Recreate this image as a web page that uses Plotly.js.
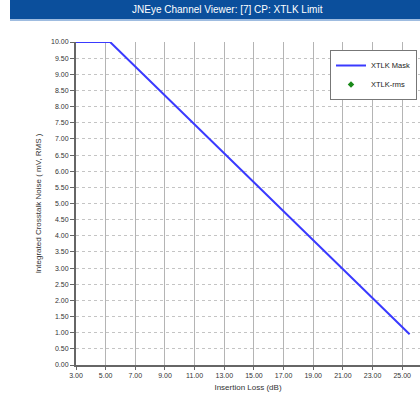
<!DOCTYPE html>
<html><head><meta charset="utf-8">
<script src="https://cdn.plot.ly/plotly-3.0.1.min.js"></script>
<style>html,body{margin:0;padding:0;background:#fff;overflow:hidden;}#chart{width:420px;height:396px;}</style>
</head><body><div id="chart"></div>
<script>
const chartTitle = "JNEye Channel Viewer: [7] CP: XTLK Limit";
const insertionLoss = [3.0, 5.3, 25.5];
const xtlkMask = [10.0, 10.0, 0.95];
const rmsLoss = [null];
const xtlkRms = [null];
const xTickVals = [3,5,7,9,11,13,15,17,19,21,23,25];
const yTickVals = [0,0.5,1,1.5,2,2.5,3,3.5,4,4.5,5,5.5,6,6.5,7,7.5,8,8.5,9,9.5,10];

const F = "Liberation Sans Narrow, Liberation Sans, Arial, sans-serif";
const W = 420, H = 396, ml = 76, mr = 0, mt = 42, mb = 31;
const PW = W - ml - mr, PH = H - mt - mb;

const traces = [
  {x: insertionLoss, y: xtlkMask, mode: 'lines', name: 'XTLK Mask',
   line: {color: '#3a3aff', width: 2}, cliponaxis: false},
  {x: rmsLoss, y: xtlkRms, mode: 'markers', name: 'XTLK-rms',
   marker: {color: '#1a8a1a', symbol: 'diamond', size: 5}}
];

const layout = {
  width: W, height: H,
  margin: {l: ml, r: mr, t: mt, b: mb, pad: 0, autoexpand: false},
  paper_bgcolor: '#fff', plot_bgcolor: '#fff',
  font: {family: F, size: 7, color: '#333'},
  showlegend: true,
  legend: {x: (417 - ml) / PW, y: 1 - (50 - mt) / PH, xanchor: 'right', yanchor: 'top',
    bgcolor: '#fff', bordercolor: '#777', borderwidth: 1,
    font: {family: F, size: 7.5, color: '#222'}, tracegroupgap: 0, itemwidth: 30},
  xaxis: {range: [3, 26.2], tickvals: xTickVals, tickformat: '.2f',
    showgrid: true, gridcolor: '#b4b4b4', gridwidth: 1,
    showline: true, linecolor: '#666', linewidth: 2,
    ticks: 'outside', ticklen: 3, tickcolor: '#666',
    zeroline: false, tickfont: {family: F, size: 7, color: '#333'},
    title: {text: 'Insertion Loss (dB)', font: {family: F, size: 8, color: '#333'}, standoff: 6}},
  yaxis: {range: [0, 10], tickvals: yTickVals, tickformat: '.2f',
    showgrid: true, gridcolor: '#c4c4c4', gridwidth: 1, griddash: 'dot',
    showline: true, linecolor: '#666', linewidth: 2,
    ticks: 'outside', ticklen: 4, tickcolor: '#666',
    zeroline: false, tickfont: {family: F, size: 7, color: '#333'},
    title: {text: 'Integrated Crosstalk Noise ( mV, RMS )', font: {family: F, size: 8, color: '#333'}, standoff: 8}},
  shapes: [
    {type: 'rect', xref: 'paper', yref: 'paper',
     x0: (10 - ml) / PW, x1: 1.0,
     y0: 1 + (mt - 19) / PH, y1: 1 + mt / PH,
     fillcolor: '#0b4f9c', line: {width: 0}, layer: 'above'},
    {type: 'line', xref: 'paper', yref: 'paper',
     x0: (10 - ml) / PW, x1: 1.0,
     y0: 1 + (mt - 20) / PH, y1: 1 + (mt - 20) / PH,
     line: {color: '#7fa6d6', width: 1.5}}
  ],
  annotations: [
    {text: chartTitle, xref: 'paper', yref: 'paper',
     x: (227 - ml) / PW, y: 1 + (mt - 10) / PH,
     xanchor: 'center', yanchor: 'middle', showarrow: false,
     font: {family: F, size: 10, color: '#fff'}}
  ]
};

Plotly.newPlot('chart', traces, layout, {displayModeBar: false, staticPlot: true});
</script></body></html>
